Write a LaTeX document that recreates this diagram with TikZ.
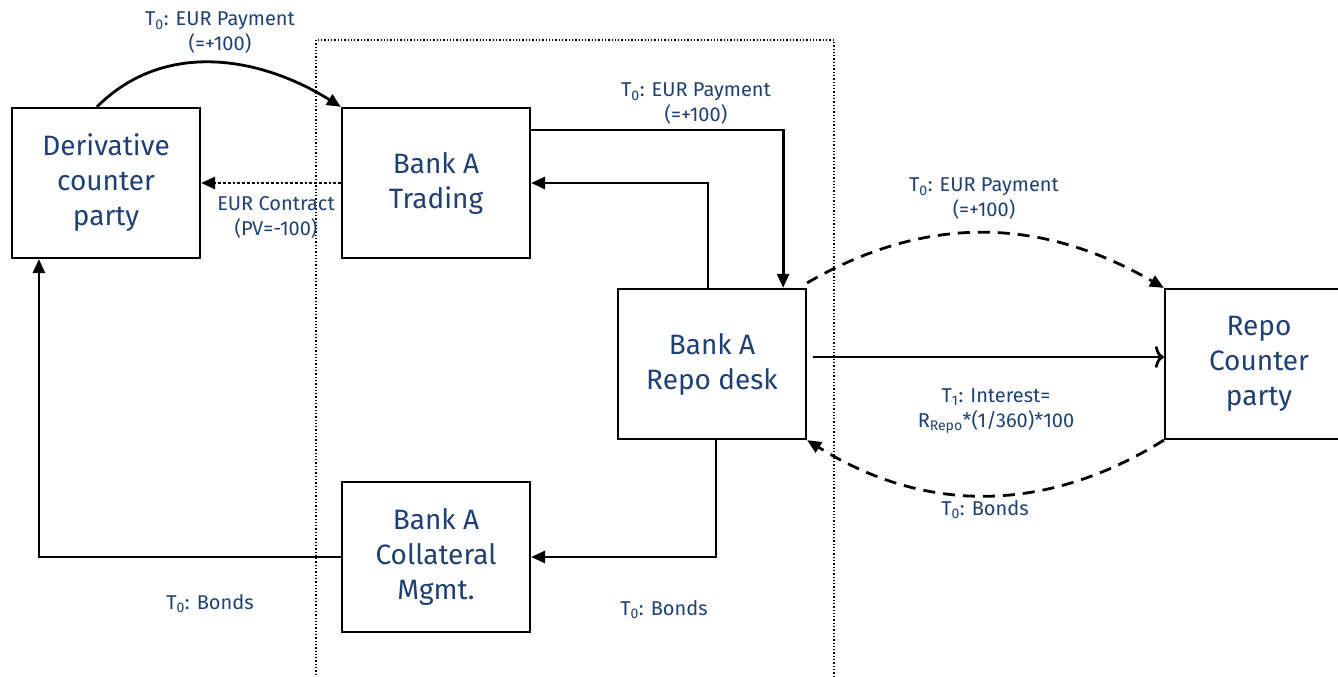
\documentclass[tikz,border=0pt]{standalone}
\usepackage{fontspec}
\setmainfont{Fira Sans}
\usepackage{xcolor}
\usetikzlibrary{arrows.meta}
\usetikzlibrary{positioning}
\definecolor{lblblue}{RGB}{31,64,115}

\begin{document}
\begin{tikzpicture}[x=1pt,y=-1pt,
  box/.style={draw,line width=2.2pt,align=center,minimum width=188pt,minimum height=150pt,
    inner sep=0pt,text=lblblue,font=\fontsize{28}{35}\selectfont},
  lbl/.style={align=center,text=lblblue,font=\fontsize{20}{25}\selectfont},
  arr/.style={line width=2.8pt,-{Triangle[length=14pt,width=12pt]}},
  dashline/.style={dash pattern=on 12pt off 8pt}]
\clip (0,0) rectangle (1338,677);
% the bank A frame
\draw[dotted,line width=1.3pt] (316,40) rectangle (834,700);
% parties
\node[box] (deriv) at (106,183) {Derivative\\counter\\party};
\node[box] (trading) at (436,183) {Bank A\\Trading};
\node[box] (repo) at (712,364) {Bank A\\Repo desk};
\node[box] (repocp) at (1259,364) {Repo\\Counter\\party};
\node[box] (coll) at (436,557) {Bank A\\Collateral\\Mgmt.};
% flows
\draw[arr] ([xshift=86pt]deriv.north west) to[out=45,in=148] (trading.north west);
\draw[arr] ([yshift=-23pt]trading.north east) -| ([xshift=-24pt]repo.north east);
\draw[arr] ([xshift=-4pt]repo.north) |- (trading.east);
\draw[arr,dotted] (trading.west) -- (deriv.east);
\draw[arr,dashline] ([yshift=5pt]repo.north east) to[out=30,in=150] (repocp.north west);
\draw[line width=2.8pt,-{To[length=9pt,width=22pt]}] ([xshift=6pt,yshift=7pt]repo.east) -- ([yshift=7pt]repocp.west);
\draw[arr,dashline] (repocp.south west) to[out=212,in=-32] (repo.south east);
\draw[arr] ([xshift=4pt]repo.south) |- (coll.east);
\draw[arr] (coll.west) -| ([xshift=28pt]deriv.south west);
% labels
\node[lbl] (l1) at (220,33) {T\textsubscript{0}: EUR Payment\\(=+100)};
\node[lbl] (l2) at (696,104) {T\textsubscript{0}: EUR Payment\\(=+100)};
\node[lbl] (l3) at (276,217) {EUR Contract\\(PV=-100)};
\node[lbl] (l4) at (984,199) {T\textsubscript{0}: EUR Payment\\(=+100)};
\node[lbl] (l5) at (996,411) {T\textsubscript{1}: Interest=\\R\textsubscript{Repo}*(1/360)*100};
\node[lbl] (l6) at (985,510) {T\textsubscript{0}: Bonds};
\node[lbl] (l7) at (664,610) {T\textsubscript{0}: Bonds};
\node[lbl] (l8) at (210,604) {T\textsubscript{0}: Bonds};
\end{tikzpicture}
\end{document}
